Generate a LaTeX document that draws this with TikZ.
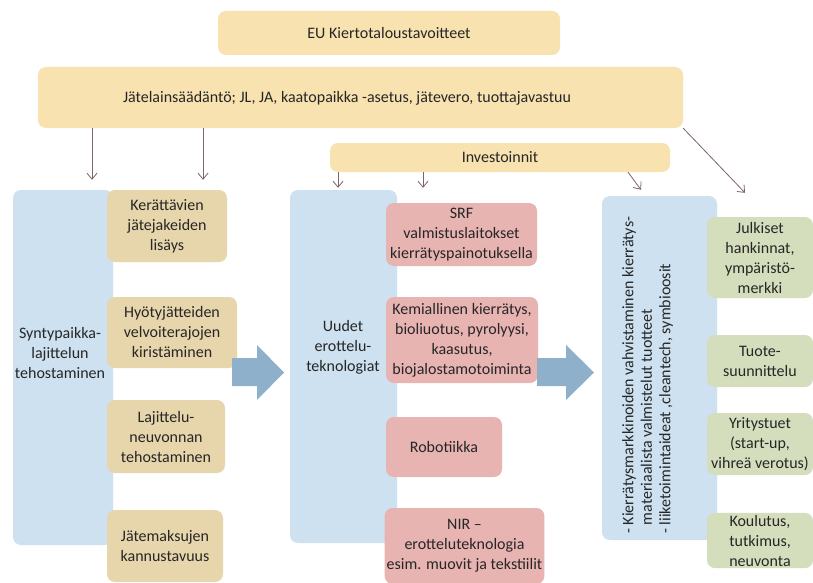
\documentclass[tikz,border=0pt]{standalone}
\usepackage{fontspec}
\setmainfont{Carlito}
\usepackage{tikz}
\usetikzlibrary{calc,arrows.meta}

\definecolor{keltainen}{RGB}{247,226,176}
\definecolor{beige}{RGB}{231,214,172}
\definecolor{sininen}{RGB}{205,225,240}
\definecolor{punainen}{RGB}{232,180,178}
\definecolor{vihrea}{RGB}{213,222,188}
\definecolor{nuoli}{RGB}{143,176,203}
\definecolor{viiva}{RGB}{128,98,108}
\definecolor{teksti}{RGB}{38,38,38}

\begin{document}
\begin{tikzpicture}[x=1pt,y=-1pt,
    box/.style={rounded corners=8pt, inner sep=2pt, align=center, text=teksti,
      font=\fontsize{16}{20}\selectfont},
    conn/.style={draw=viiva, line width=0.8pt, -{Straight Barb[length=6pt,width=10pt]}}]
  \useasboundingbox (0,0) rectangle (813,583);
  \fill[white] (0,0) rectangle (813,583);

  % ylataso
  \node[box, fill=keltainen, minimum width=342, minimum height=44] (eu) at (389,33) {EU Kiertotaloustavoitteet};
  \node[box, fill=keltainen, minimum width=645, minimum height=61] (laki) at (360.5,97.5) {};
  \node[box] (lakiteksti) at (347,98)
    {Jätelainsäädäntö; JL, JA, kaatopaikka -asetus, jätevero, tuottajavastuu};
  \node[box, fill=keltainen, minimum width=340, minimum height=29] (inv) at (500,157.5) {Investoinnit};

  % syntypaikka
  \node[box, fill=sininen, minimum width=100, minimum height=355] (syn) at (63,367.5) {};
  \node[box] (synteksti) at (60,353) {Syntypaikka-\\lajittelun\\tehostaminen};
  \node[box, fill=beige, minimum width=120, minimum height=72] (t1) at (167,226) {Kerättävien\\jätejakeiden\\lisäys};
  \node[box, fill=beige, minimum width=130, minimum height=71] (t2) at (172,332.5) {Hyötyjätteiden\\velvoiterajojen\\kiristäminen};
  \node[box, fill=beige, minimum width=118, minimum height=73] (t3) at (166,436.5) {Lajittelu-\\neuvonnan\\tehostaminen};
  \node[box, fill=beige, minimum width=116, minimum height=72] (t4) at (165,546) {Jätemaksujen\\kannustavuus};

  % erottelu
  \node[box, fill=sininen, minimum width=107, minimum height=353] (uud) at (343.5,366.5) {};
  \node[box] (uudteksti) at (343,347) {Uudet\\erottelu-\\teknologiat};
  \node[box, fill=punainen, minimum width=151, minimum height=63] (srf) at (461.5,234.5) {SRF\\valmistuslaitokset\\kierrätyspainotuksella};
  \node[box, fill=punainen, minimum width=152, minimum height=86] (kem) at (462,340)
    {Kemiallinen kierrätys,\\bioliuotus, pyrolyysi,\\kaasutus,\\biojalostamotoiminta};
  \node[box, fill=punainen, minimum width=116, minimum height=60] (rob) at (444,447) {Robotiikka};
  \node[box, fill=punainen, minimum width=157, minimum height=76] (nir) at (464.5,546) {NIR --\\erotteluteknologia\\esim. muovit ja tekstiilit};

  % markkinat
  \node[box, fill=sininen, minimum width=115, minimum height=344] (mark) at (659.5,368) {};
  \node[box, rotate=90, anchor=north west, align=left, inner sep=0pt,
    font=\fontsize{16}{18.5}\selectfont] (markteksti) at (622,534)
    {- Kierrätysmarkkinoiden vahvistaminen kierrätys-\\
     \hphantom{- }materiaalista valmistelut tuotteet\\
     - liiketoimintaideat ,cleantech, symbioosit};
  \node[box, fill=vihrea, minimum width=106, minimum height=81] (jul) at (760,257.5) {Julkiset\\hankinnat,\\ympäristö-\\merkki};
  \node[box, fill=vihrea, minimum width=106, minimum height=52] (tuo) at (760,361) {Tuote-\\suunnittelu};
  \node[box, fill=vihrea, minimum width=106, minimum height=62] (yri) at (760,444) {Yritystuet\\(start-up,\\vihreä verotus)};
  \node[box, fill=vihrea, minimum width=106, minimum height=55] (kou) at (760,540.5) {Koulutus,\\tutkimus,\\neuvonta};

  % isot nuolet
  \fill[nuoli] (232,358) -- (257,358) -- (257,345) -- (284,372.5) -- (257,400) -- (257,386) -- (232,386) -- cycle;
  \fill[nuoli] (537,358) -- (566,358) -- (566,345) -- (594,372.5) -- (566,400) -- (566,386) -- (537,386) -- cycle;

  % yhteydet
  \draw[conn] (laki.south -| 92,0) -- ($(syn.north -| 92,0)+(0,-10)$);
  \draw[conn] (laki.south -| 203,0) -- ($(t1.north -| 203,0)+(0,-10)$);
  \draw[conn] (laki.south east) -- ($(jul.north)+(-15,-24)$);
  \draw[conn] (inv.south -| 338,0) -- ($(uud.north -| 338,0)+(0,-2)$);
  \draw[conn] (inv.south -| 423,0) -- ($(srf.north -| 423,0)+(0,-15)$);
  \draw[conn] (inv.south -| 628,0) -- ($(mark.north)+(-18.5,-6)$);
\end{tikzpicture}
\end{document}
